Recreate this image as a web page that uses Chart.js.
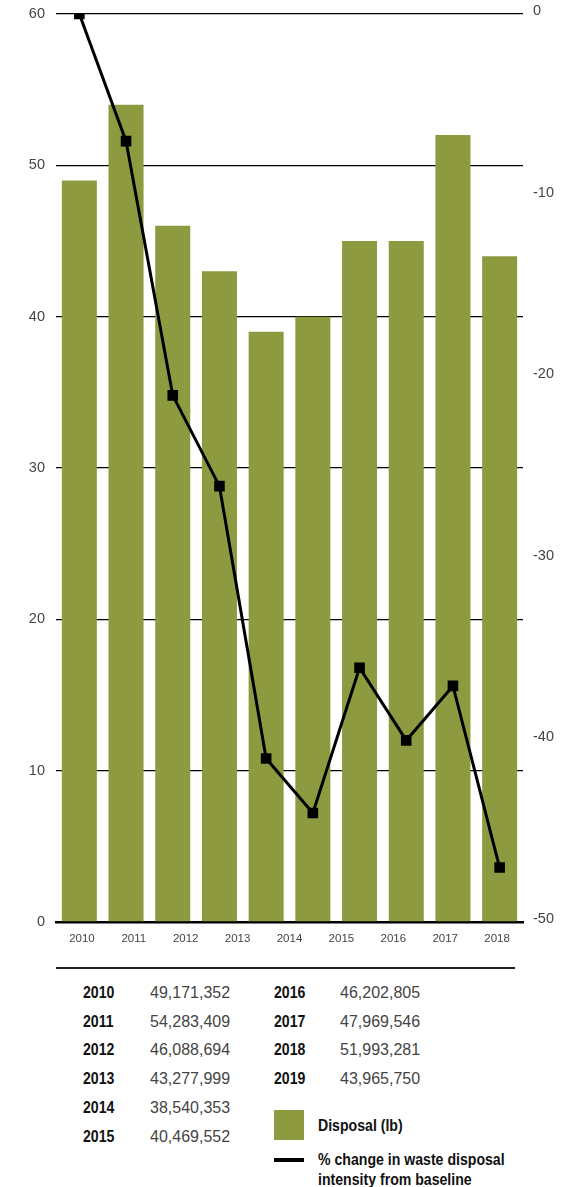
<!DOCTYPE html>
<html>
<head>
<meta charset="utf-8">
<script src="https://cdn.jsdelivr.net/npm/chart.js@4.4.1/dist/chart.umd.min.js"></script>
<style>
  body { margin: 0; background: #fff; width: 584px; height: 1187px; position: relative; overflow: hidden; }
  #wrap { position: absolute; left: 0; top: 0; width: 584px; height: 960px; }
  .t { position: absolute; line-height: 20px; white-space: nowrap; }
  .yr, .leg { font-family: "Liberation Sans", Arial, sans-serif; font-weight: bold; font-size: 17px; color: #111;
    transform: scaleX(0.83); transform-origin: 0 50%; }
  .val { font-family: "Liberation Sans", Arial, sans-serif; font-size: 16px; color: #444; }
</style>
</head>
<body>
<div id="wrap"><canvas id="chart" width="584" height="960"></canvas></div>
<div id="rule" style="position:absolute;left:56px;top:967px;width:459px;height:2px;background:#222"></div>
<div id="table"></div>
<div style="position:absolute;left:274px;top:1110px;width:30px;height:30px;background:#8e9a3f"></div>
<div class="t leg" style="left:318px;top:1116px">Disposal (lb)</div>
<div style="position:absolute;left:274px;top:1158px;width:30px;height:4px;background:#000"></div>
<div class="t leg" style="left:318px;top:1150px">% change in waste disposal<br>intensity from baseline</div>
<script>
// data
const categories = ['2010','2011','2012','2013','2014','2015','2016','2017','2018','2019']
const axisLabels = ['2010','2011','2012','2013','2014','2015','2016','2017','2018']
const disposal = [49, 54, 46, 43, 39, 40, 45, 45, 52, 44]
const pctChange = [0, -7, -21, -26, -41, -44, -36, -40, -37, -47]
const leftTicks = [0, 60, 10]
const rightTicks = [-50, 0, 10]

const tableYears = ['2010','2011','2012','2013','2014','2015','2016','2017','2018','2019']
const tableValues = ['49,171,352','54,283,409','46,088,694','43,277,999','38,540,353','40,469,552',
  '46,202,805','47,969,546','51,993,281','43,965,750']

const green = '#8e9a3f'
const txt = '#444'

let table = document.getElementById('table')
tableYears.forEach((y, i) => {
  let col = i < 6 ? 0 : 1
  let row = i < 6 ? i : i - 6
  let top = 983 + row * 28.7
  let xy = col ? 274 : 83
  let xv = col ? 340 : 150
  table.innerHTML += `<div class="t yr" style="left:${xy}px;top:${top}px">${y}</div>
    <div class="t val" style="left:${xv}px;top:${top}px">${tableValues[i]}</div>`
})

// keep the axis labels from pushing the plot area down
const fitY = w => s => { s.width = w; s.paddingTop = 0; s.paddingBottom = 0 }

new Chart(document.getElementById('chart'), {
  data: {
    labels: categories,
    datasets: [
      {
        type: 'line',
        label: '% change in waste disposal intensity from baseline',
        data: pctChange,
        yAxisID: 'y1',
        xAxisID: 'x',
        borderColor: '#000',
        borderWidth: 3,
        pointStyle: 'rect',
        pointRadius: 7.5,
        pointBackgroundColor: '#000',
        pointBorderColor: '#000',
        pointBorderWidth: 0,
        tension: 0,
        order: 0
      },
      {
        type: 'bar',
        label: 'Disposal (lb)',
        data: disposal,
        yAxisID: 'y',
        xAxisID: 'x',
        backgroundColor: green,
        categoryPercentage: 0.75,
        barPercentage: 1,
        order: 1
      }
    ]
  },
  options: {
    responsive: false,
    animation: false,
    layout: { padding: { top: 14 } },
    plugins: { legend: { display: false }, tooltip: { enabled: false } },
    scales: {
      x: { type: 'category', display: false, offset: true },
      xl: {
        type: 'category', axis: 'x', position: 'bottom', labels: axisLabels, offset: true,
        grid: { display: false, drawTicks: false },
        border: { display: true, color: '#000', width: 2.5 },
        ticks: { color: txt, font: { family: 'Liberation Sans', size: 11.5 }, padding: 10, maxRotation: 0, autoSkip: false },
        afterFit: s => { s.height = 38 }
      },
      y: {
        position: 'left', min: leftTicks[0], max: leftTicks[1], z: 1,
        grid: { color: '#000', lineWidth: 1.3, drawTicks: false },
        border: { display: false },
        ticks: { stepSize: leftTicks[2], color: txt, font: { family: 'Liberation Sans', size: 14.5 }, padding: 11 },
        afterFit: fitY(56)
      },
      y1: {
        position: 'right', min: rightTicks[0], max: rightTicks[1],
        grid: { display: false, drawTicks: false },
        border: { display: false },
        ticks: { stepSize: rightTicks[2], color: txt, font: { family: 'Liberation Sans', size: 14.5 }, padding: 10, labelOffset: -3 },
        afterFit: fitY(61)
      }
    }
  }
})
</script>
</body>
</html>
